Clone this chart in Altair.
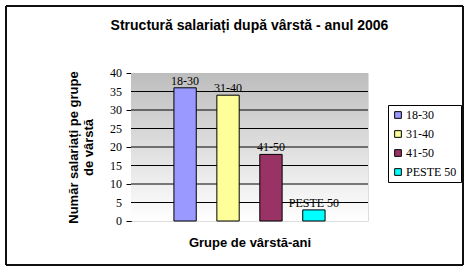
import altair as alt
import pandas as pd

categories = ["18-30", "31-40", "41-50", "PESTE 50"]
values = [36, 34, 18, 3]
colors = ["#9999ff", "#ffff99", "#993366", "#00ffff"]
y_ticks = [0, 5, 10, 15, 20, 25, 30, 35, 40]
grid_values = [5, 10, 15, 20, 25, 30, 35]

df = pd.DataFrame({"group": categories, "value": values})
gdf = pd.DataFrame({"g": grid_values})
tdf = pd.DataFrame({"t": y_ticks})

W, H = 237, 148

bg = alt.Chart(df).mark_rect(
    fill=alt.Gradient(
        gradient="linear",
        stops=[alt.GradientStop(color="#bdbdbd", offset=0),
               alt.GradientStop(color="#ffffff", offset=1)],
        x1=0, x2=0, y1=0, y2=1,
    )
).encode(x=alt.value(0), x2=alt.value(W), y=alt.value(0), y2=alt.value(H))

yaxis = alt.Axis(values=y_ticks, tickCount=8, domainColor="black", labelOverlap=False,
                 tickColor="black", tickSize=5, labels=False, grid=False,
                 title=["Număr salariați pe grupe", "de vârstă"],
                 titleFont="Liberation Sans", titleFontSize=13,
                 titleFontWeight="bold", titleColor="black",
                 titlePadding=30, titleLineHeight=15)
yscale = alt.Scale(domain=[0, 40], nice=False)

grid = alt.Chart(gdf).mark_rule(color="black", strokeWidth=1).encode(
    y=alt.Y("g:Q", scale=yscale, axis=yaxis),
    x=alt.value(0), x2=alt.value(W))

ticklabels = alt.Chart(tdf).mark_text(align="right", baseline="middle",
                                      font="Liberation Serif", fontSize=12,
                                      color="black").encode(
    y=alt.Y("t:Q", scale=yscale, axis=yaxis),
    x=alt.value(-9), text="t:Q")

xenc = alt.X("group:N", sort=categories,
             scale=alt.Scale(paddingInner=0.48, paddingOuter=1),
             axis=alt.Axis(labels=False, ticks=False, domain=False,
                           title="Grupe de vârstă-ani", titleFont="Liberation Sans",
                           titleFontSize=13, titleFontWeight="bold", titleColor="black",
                           titlePadding=15))

bars = alt.Chart(df).mark_bar(stroke="black", strokeWidth=1).encode(
    x=xenc, y=alt.Y("value:Q", scale=yscale, axis=yaxis),
    color=alt.Color("group:N", sort=categories,
                    scale=alt.Scale(domain=categories, range=colors),
                    legend=alt.Legend(title=None, orient="none", legendX=257, legendY=32,
                                      strokeColor="black", fillColor="white", padding=4,
                                      symbolType="square", symbolSize=45,
                                      symbolStrokeColor="black", symbolStrokeWidth=1,
                                      labelFont="Liberation Serif", labelFontSize=12,
                                      labelColor="black", rowPadding=7, labelOffset=2)),
)

labels = alt.Chart(df).mark_text(baseline="bottom", dy=0, font="Liberation Serif",
                                 fontSize=12, color="black").encode(
    x=xenc, y=alt.Y("value:Q", scale=yscale, axis=yaxis), text="group:N")

border = alt.Chart(df).mark_rect(fill=None, stroke="black", strokeWidth=1).encode(
    x=alt.value(-125), x2=alt.value(332), y=alt.value(-67), y2=alt.value(192))

chart = alt.layer(bg, grid, bars, labels, ticklabels, border).properties(
    width=W, height=H,
    title=alt.Title("Structură salariați după vârstă - anul 2006", font="Liberation Sans",
                    fontSize=14, fontWeight="bold", color="black", anchor="middle",
                    offset=-27),
    autosize=alt.AutoSizeParams(type="none"),
    padding={"left": 131, "top": 73, "right": 101, "bottom": 50},
).configure_view(stroke="#a0a0a0", strokeWidth=1).configure(background="white").configure_axis(labelOverlap=False)

chart.save("out.html", embed_options={"renderer": "svg", "actions": False})
